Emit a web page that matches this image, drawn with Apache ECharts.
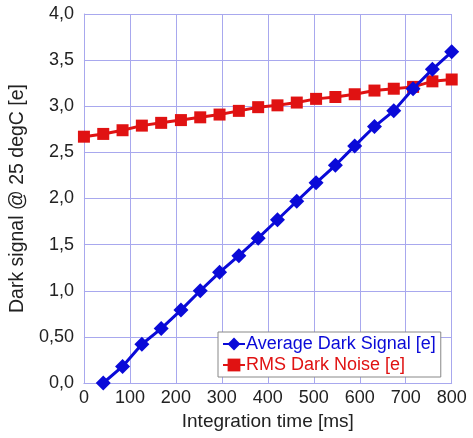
<!DOCTYPE html>
<html><head><meta charset="utf-8">
<script src="https://cdn.jsdelivr.net/npm/echarts@6/dist/echarts.min.js"></script>
<style>html,body{margin:0;padding:0;background:#fff}#c{width:473px;height:438px}</style>
</head><body><div id="c"></div>
<script>
const xNoise = [0, 42, 84, 126, 168, 211, 253, 295, 337, 379, 421, 463, 505, 547, 589, 632, 674, 716, 758, 800];
const noiseValues = [2.67, 2.70, 2.74, 2.79, 2.82, 2.85, 2.88, 2.91, 2.95, 2.99, 3.01, 3.04, 3.08, 3.10, 3.13, 3.17, 3.19, 3.21, 3.27, 3.29];
const xSignal = [42, 84, 126, 168, 211, 253, 295, 337, 379, 421, 463, 505, 547, 589, 632, 674, 716, 758, 800];
const signalValues = [0.00, 0.18, 0.42, 0.59, 0.79, 1.00, 1.20, 1.38, 1.57, 1.77, 1.97, 2.17, 2.36, 2.57, 2.78, 2.95, 3.19, 3.40, 3.59];
const yTickLabels = ['0,0','0,50','1,0','1,5','2,0','2,5','3,0','3,5','4,0'];
const seriesNames = ['Average Dark Signal [e]', 'RMS Dark Noise [e]'];

const blue = '#0a0ad8', red = '#e01212';
const gridColor = '#a8a8ee';
const chart = echarts.init(document.getElementById('c'));
chart.setOption({
  animation: false,
  textStyle: { fontFamily: 'Liberation Sans, Arial, sans-serif' },
  grid: { left: 80.7, right: 21.3, top: 14, bottom: 55 },
  xAxis: {
    type: 'value', min: 0, max: 800, interval: 100,
    name: 'Integration time [ms]', nameLocation: 'middle', nameGap: 27,
    nameTextStyle: { fontSize: 19, color: '#222' },
    axisLine: { lineStyle: { color: gridColor, width: 1 } },
    axisTick: { show: false },
    axisLabel: { fontSize: 18, color: '#222', margin: 6 },
    splitLine: { show: true, lineStyle: { color: gridColor, width: 1 } }
  },
  yAxis: {
    type: 'value', min: 0, max: 4, interval: 0.5,
    name: 'Dark signal @ 25 degC [e]', nameLocation: 'middle', nameGap: 50,
    nameTextStyle: { fontSize: 19.5, color: '#222' },
    axisLine: { show: true, lineStyle: { color: gridColor, width: 1 } },
    axisTick: { show: false },
    axisLabel: { fontSize: 18, color: '#222', margin: 10,
      formatter: v => yTickLabels[Math.round(v / 0.5)] },
    splitLine: { show: true, lineStyle: { color: gridColor, width: 1 } }
  },
  legend: {
    orient: 'vertical', left: 218, top: 332,
    backgroundColor: '#fff', borderColor: '#888', borderWidth: 1,
    padding: [3, 5, 3, 4], itemGap: 3, itemWidth: 22, itemHeight: 16,
    textStyle: { fontSize: 18, padding: [0, 0, 0, -4] },
    data: [
      { name: seriesNames[0], textStyle: { color: blue } },
      { name: seriesNames[1], textStyle: { color: red } }
    ]
  },
  series: [
    {
      name: seriesNames[0], type: 'line',
      data: xSignal.map((x, i) => [x, signalValues[i]]),
      symbol: 'diamond', symbolSize: 15,
      lineStyle: { color: blue, width: 3 }, itemStyle: { color: blue },
      z: 3
    },
    {
      name: seriesNames[1], type: 'line',
      data: xNoise.map((x, i) => [x, noiseValues[i]]),
      symbol: 'rect', symbolSize: 12,
      lineStyle: { color: red, width: 3 }, itemStyle: { color: red },
      z: 2
    }
  ]
});
</script></body></html>
